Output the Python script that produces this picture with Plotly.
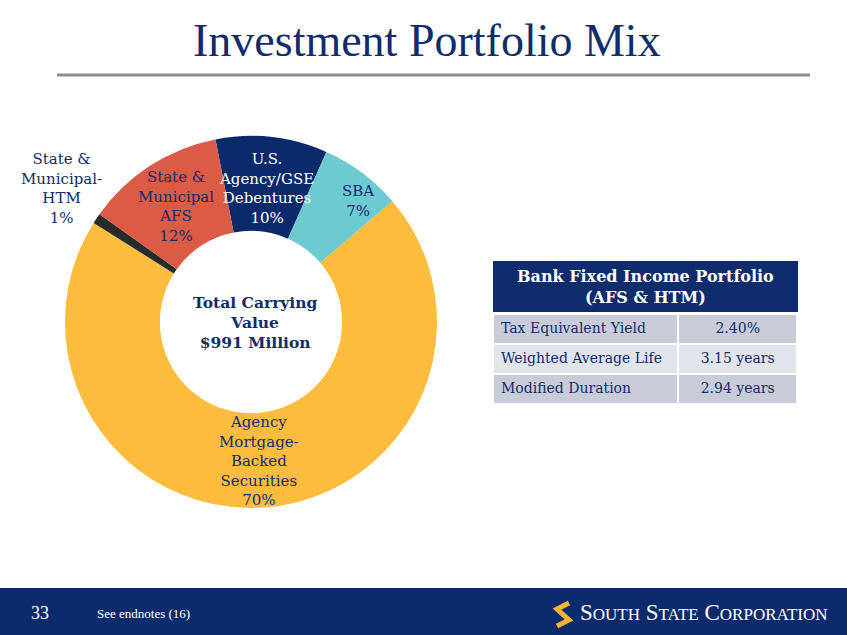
"""
Investment Portfolio Mix - donut of the bond book plus the fixed income summary table
"""

import plotly.graph_objects as go

W, H = 847, 635

# ---- data -------------------------------------------------------------
segments = [
    'U.S. Agency/GSE Debentures',
    'SBA',
    'Agency Mortgage-Backed Securities',
    'State & Municipal-HTM',
    'State & Municipal AFS',
]
seg_share = [9.7, 7.1, 70.2, 0.9, 12.1]   # % of carrying value
seg_label = [
    'U.S.<br>Agency/GSE<br>Debentures<br>10%',
    'SBA<br>7%',
    'Agency<br>Mortgage-<br>Backed<br>Securities<br>70%',
    'State &<br>Municipal-<br>HTM<br>1%',
    'State &<br>Municipal<br>AFS<br>12%',
]
total_carrying = '$991 Million'

table_title = 'Bank Fixed Income Portfolio<br>(AFS & HTM)'
table_metrics = ['Tax Equivalent Yield', 'Weighted Average Life', 'Modified Duration']
table_values = ['2.40%', '3.15 years', '2.94 years']

# ---- styling ----------------------------------------------------------
NAVY = '#0f2c6c'
seg_colors = ['#0b2a6c', '#6ccad0', '#fcbd3f', '#272b2a', '#dc5b45']
seg_text_color = ['white', NAVY, NAVY, NAVY, NAVY]
# label centres in slide pixels (x, y)
seg_text_pos = [(266, 188), (358, 201), (259, 461), (62, 188), (176, 206)]
SERIF = 'DejaVu Serif'


def px(x, y):
    """slide pixel -> paper coords"""
    return x / W, 1 - y / H


def note(x, y, text, font, **kw):
    ax, ay = px(x, y)
    d = dict(x=ax, y=ay, text=text, showarrow=False, xref='paper', yref='paper',
             xanchor='center', yanchor='middle', align='center', font=font)
    d.update(kw)
    return d


fig = go.Figure()

# donut, centre ~(251, 322), radius ~186
fig.add_trace(go.Pie(
    labels=segments,
    values=seg_share,
    sort=False,
    direction='clockwise',
    rotation=-11,
    hole=0.49,
    marker=dict(colors=seg_colors, line=dict(width=0)),
    textinfo='none',
    hovertemplate='%{label}: %{percent}<extra></extra>',
    domain=dict(x=[65 / W, 437 / W], y=[1 - 508 / H, 1 - 136 / H]),
))

# summary table; header cells are left see-through so the navy band + title below show
row_fill = ['#c9ccd8', '#e2e4eb', '#c9ccd8']
fig.add_trace(go.Table(
    domain=dict(x=[493 / W, 798 / W], y=[1 - 420 / H, 1 - 261 / H]),
    columnwidth=[186, 119],
    header=dict(values=['', ''], height=53, fill_color='rgba(0,0,0,0)',
                line=dict(color='rgba(0,0,0,0)', width=0)),
    cells=dict(values=[table_metrics, table_values],
               height=30,
               align=['left', 'center'],
               fill_color=[row_fill, row_fill],
               line=dict(color='white', width=2),
               font=dict(family=SERIF, size=14, color=NAVY)),
))

annotations = []
for txt, col, (x, y) in zip(seg_label, seg_text_color, seg_text_pos):
    annotations.append(note(x, y, txt, dict(family=SERIF, size=15, color=col)))

annotations.append(note(255, 322, f'<b>Total Carrying<br>Value<br>{total_carrying}</b>',
                        dict(family=SERIF, size=15.5, color=NAVY)))
annotations.append(note(645, 287, f'<b>{table_title}</b>',
                        dict(family=SERIF, size=16, color='white')))

# slide title
annotations.append(note(427, 40, 'Investment Portfolio Mix',
                        dict(family='Liberation Serif', size=46, color=NAVY)))

# footer
annotations.append(note(40, 613, '33', dict(family='Liberation Serif', size=18, color='white')))
annotations.append(note(95, 613, 'See endnotes (16)',
                        dict(family='Liberation Serif', size=13, color='white'), xanchor='left'))
sm = "<span style='font-size:17px'>"
annotations.append(note(578, 612, f"S{sm}OUTH</span> S{sm}TATE</span> C{sm}ORPORATION</span>",
                        dict(family='Liberation Serif', size=23, color='white'), xanchor='left'))

shapes = [
    # rule under the title
    dict(type='line', xref='paper', yref='paper', x0=57 / W, x1=810 / W, y0=1 - 75 / H, y1=1 - 75 / H,
         line=dict(color='#8c8c8c', width=3)),
    # table header band
    dict(type='rect', xref='paper', yref='paper', x0=493 / W, x1=798 / W, y0=1 - 312 / H, y1=1 - 261 / H,
         fillcolor=NAVY, line=dict(width=0), layer='below'),
    # footer band
    dict(type='rect', xref='paper', yref='paper', x0=0, x1=1, y0=0, y1=1 - 588 / H,
         fillcolor='#0c2b6b', line=dict(width=0), layer='below'),
    # logo mark
    dict(type='path', xref='paper', yref='paper',
         path=f'M {569 / W},{1 - 603 / H} L {557 / W},{1 - 609 / H} L {569 / W},{1 - 620 / H} L {557 / W},{1 - 626 / H}',
         line=dict(color='#f5b335', width=5)),
]

fig.update_layout(
    width=W, height=H,
    margin=dict(l=0, r=0, t=0, b=0),
    paper_bgcolor='white',
    plot_bgcolor='white',
    showlegend=False,
    annotations=annotations,
    shapes=shapes,
    xaxis=dict(visible=False, domain=[0, 1], range=[0, 1]),
    yaxis=dict(visible=False, domain=[0, 1], range=[0, 1]),
)

fig.write_html("out.html", config={'displayModeBar': False},
               post_script="document.body.style.margin='0';document.body.style.overflow='hidden';")
